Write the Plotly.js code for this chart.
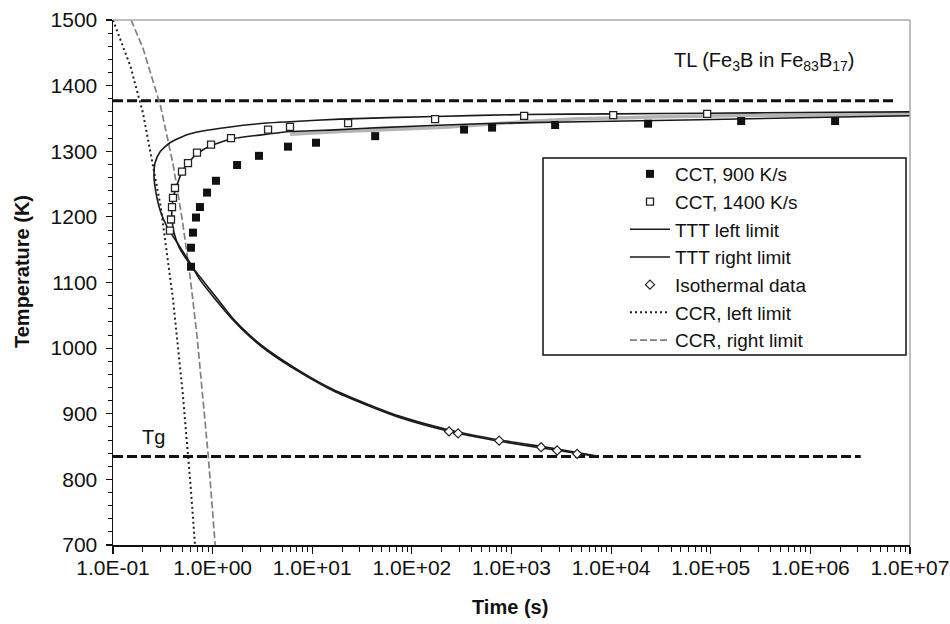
<!DOCTYPE html>
<html>
<head>
<meta charset="utf-8">
<script src="https://cdn.plot.ly/plotly-3.0.1.min.js"></script>
<style>html,body{margin:0;padding:0;background:#fff;}#chart{width:950px;height:624px;}</style>
</head>
<body>
<div id="chart"></div>
<script>
// ---- data ----
const xTickVals = [0.1, 1, 10, 100, 1e3, 1e4, 1e5, 1e6, 1e7];
const xTickText = ['1.0E-01','1.0E+00','1.0E+01','1.0E+02','1.0E+03','1.0E+04','1.0E+05','1.0E+06','1.0E+07'];

// CCT 900 K/s (solid squares)
const cct900Time = [0.607, 0.607, 0.635, 0.681, 0.746, 0.879, 1.08, 1.76, 2.92, 5.71, 10.9, 42.8, 334, 638, 2740, 2.35e4, 2.02e5, 1.77e6];
const cct900Temp = [1124, 1153, 1176, 1199, 1215, 1237, 1255, 1279, 1293, 1307, 1313, 1323, 1333, 1336, 1340, 1342, 1346, 1346];

// CCT 1400 K/s (open squares)
const cct1400Time = [0.373, 0.382, 0.391, 0.400, 0.419, 0.493, 0.566, 0.697, 0.964, 1.53, 3.60, 5.98, 22.9, 171, 1340, 1.05e4, 9.2e4];
const cct1400Temp = [1179, 1196, 1215, 1229, 1244, 1269, 1282, 1298, 1310, 1320, 1333, 1337, 1343, 1349, 1354, 1355, 1357];

// TTT left limit
const tttLeftTime = [1.0e7, 7.9e5, 9.2e4, 1.1e4, 1340, 171, 19.0, 5.98, 3.52, 1.50, 0.746, 0.553, 0.373, 0.296, 0.264, 0.258, 0.270, 0.296, 0.348, 0.440, 0.593,
                     0.747, 1.057, 1.60, 2.38, 3.52, 7.54, 16.2, 35.5, 76.2, 242, 769, 2444, 7230];
const tttLeftTemp = [1360, 1359, 1358, 1357, 1356, 1353, 1349, 1345, 1343, 1337, 1330, 1325, 1313, 1299, 1282, 1261, 1237, 1211, 1185, 1161, 1130,
                     1104, 1075, 1043, 1017, 996, 963, 935, 913, 894, 873, 858, 846, 835];

// TTT right limit
const tttRightTime = [1.0e7, 7.9e5, 7.8e4, 4890, 484, 48.0, 19.0, 5.98, 3.52, 1.57, 0.94, 0.697, 0.566, 0.493, 0.440, 0.410, 0.391, 0.391, 0.410, 0.460, 0.566,
                      0.77, 1.09, 1.60, 2.38, 3.52, 7.54, 16.2, 35.5, 76.2, 242, 769, 2444, 7000];
const tttRightTemp = [1354, 1351, 1348, 1345, 1342, 1336, 1333, 1330, 1326, 1319, 1308, 1296, 1282, 1269, 1249, 1234, 1215, 1196, 1176, 1154, 1132,
                      1106, 1077, 1045, 1019, 998, 965, 937, 915, 896, 875, 860, 848, 836];

// grey curve along the upper branch
const greyTime = [5.98, 19.0, 242, 2940, 4.54e5, 1.0e7];
const greyTemp = [1326, 1330, 1337, 1348, 1355, 1356];

// Isothermal data
const isoTime = [236, 291, 752, 1983, 2871, 4560];
const isoTemp = [873, 870, 859, 849, 844, 839];

// CCR left limit
const ccrLeftTime = [0.1, 0.15, 0.2, 0.3, 0.4, 0.5, 0.6, 0.665];
const ccrLeftTemp = [1500, 1429, 1358, 1217, 1075, 933, 792, 700];

// CCR right limit
const ccrRightTime = [0.152, 0.2, 0.3, 0.4, 0.5, 0.6, 0.7, 0.8, 0.9, 1.0, 1.06];
const ccrRightTemp = [1500, 1457, 1369, 1281, 1192, 1104, 1016, 927, 839, 750, 700];

// TL and Tg levels
const tlTime = [0.1, 7.1e6];
const tlTemp = [1377, 1377];
const tgTime = [0.1, 3.2e6];
const tgTemp = [835, 835];

// ---- build chart ----
const FONT = 'Liberation Sans, Arial, Helvetica, sans-serif';

const traces = [
  {x: tlTime, y: tlTemp, mode: 'lines', showlegend: false, line: {color: '#111', width: 3, dash: '10px,4px'}},
  {x: tgTime, y: tgTemp, mode: 'lines', showlegend: false, line: {color: '#111', width: 3, dash: '10px,4px'}},
  {x: greyTime, y: greyTemp, mode: 'lines', showlegend: false, line: {color: '#b4b4b4', width: 3.5, shape: 'spline', smoothing: 0.6}},
  {x: ccrLeftTime, y: ccrLeftTemp, mode: 'lines', name: 'CCR, left limit', legendrank: 6,
   line: {color: '#222', width: 2, dash: '2px,3px'}},
  {x: ccrRightTime, y: ccrRightTemp, mode: 'lines', name: 'CCR, right limit', legendrank: 7,
   line: {color: '#808080', width: 1.7, dash: '7px,3px'}},
  {x: tttLeftTime, y: tttLeftTemp, mode: 'lines', name: 'TTT left limit', legendrank: 3,
   line: {color: '#1a1a1a', width: 1.6, shape: 'spline', smoothing: 0.6}},
  {x: tttRightTime, y: tttRightTemp, mode: 'lines', name: 'TTT right limit', legendrank: 4,
   line: {color: '#1a1a1a', width: 1.6, shape: 'spline', smoothing: 0.6}},
  {x: cct900Time, y: cct900Temp, mode: 'markers', name: 'CCT, 900 K/s', legendrank: 1,
   marker: {symbol: 'square', size: 8, color: '#111'}},
  {x: cct1400Time, y: cct1400Temp, mode: 'markers', name: 'CCT, 1400 K/s', legendrank: 2,
   marker: {symbol: 'square', size: 7, color: '#fff', line: {color: '#222', width: 1.3}}},
  {x: isoTime, y: isoTemp, mode: 'markers', name: 'Isothermal data', legendrank: 5,
   marker: {symbol: 'diamond', size: 7, color: '#fff', line: {color: '#222', width: 1.2}}}
];

const L = 113, R = 910, T = 20, B = 545;
const pw = R - L, ph = B - T;
const px = v => (v - L) / pw;
const py = v => (B - v) / ph;

const layout = {
  width: 950, height: 624,
  margin: {l: L, r: 950 - R, t: T, b: 624 - B, pad: 0},
  paper_bgcolor: '#fff', plot_bgcolor: '#fff',
  font: {family: FONT, color: '#111', size: 20},
  showlegend: true,
  legend: {x: px(625), y: py(155), xanchor: 'left', yanchor: 'top',
           bgcolor: 'rgba(0,0,0,0)', borderwidth: 0, itemwidth: 40,
           font: {family: FONT, size: 19, color: '#111'}, traceorder: 'normal'},
  xaxis: {type: 'log', range: [-1, 7], tickmode: 'array', tickvals: xTickVals, ticktext: xTickText,
          ticks: 'outside', ticklen: 7, tickwidth: 1.2, tickcolor: '#111',
          minor: {ticks: 'outside', ticklen: 5, tickwidth: 1, tickcolor: '#111', dtick: 'D1', showgrid: false},
          showline: true, linecolor: '#111', linewidth: 1.5, showgrid: false, zeroline: false,
          ticklabelstandoff: -4,
          tickfont: {family: FONT, size: 21, color: '#111'}},
  yaxis: {range: [700, 1500], tickmode: 'linear', tick0: 700, dtick: 100,
          ticks: 'outside', ticklen: 6, tickwidth: 1.2, tickcolor: '#111',
          minor: {ticks: 'outside', ticklen: 4, tickwidth: 1, tickcolor: '#111', dtick: 20, showgrid: false},
          showline: true, linecolor: '#111', linewidth: 1.5, showgrid: false, zeroline: false,
          ticklabelstandoff: 4,
          tickfont: {family: FONT, size: 21, color: '#111'}},
  shapes: [
    {type: 'line', xref: 'paper', yref: 'paper', x0: 0, x1: 1, y0: 1, y1: 1, line: {color: '#a8a8a8', width: 1.5}},
    {type: 'line', xref: 'paper', yref: 'paper', x0: 1, x1: 1, y0: 0, y1: 1, line: {color: '#a8a8a8', width: 1.5}},
    {type: 'rect', xref: 'paper', yref: 'paper', x0: px(543), x1: px(906), y0: py(355), y1: py(158),
     line: {color: '#111', width: 1.5}, fillcolor: 'rgba(0,0,0,0)'}
  ],
  annotations: [
    {xref: 'paper', yref: 'paper', x: px(22), y: py(272), text: '<b>Temperature (K)</b>', textangle: -90,
     showarrow: false, xanchor: 'center', yanchor: 'middle', font: {family: FONT, size: 20, color: '#111'}},
    {xref: 'paper', yref: 'paper', x: px(510), y: py(607), text: '<b>Time (s)</b>',
     showarrow: false, xanchor: 'center', yanchor: 'middle', font: {family: FONT, size: 20, color: '#111'}},
    {xref: 'paper', yref: 'paper', x: px(672), y: py(62), text: 'TL (Fe<sub>3</sub>B in Fe<sub>83</sub>B<sub>17</sub>)',
     showarrow: false, xanchor: 'left', yanchor: 'middle', font: {family: FONT, size: 20, color: '#111'}},
    {xref: 'paper', yref: 'paper', x: px(153), y: py(437), text: 'Tg',
     showarrow: false, xanchor: 'center', yanchor: 'middle', font: {family: FONT, size: 20, color: '#111'}}
  ]
};

Plotly.newPlot('chart', traces, layout, {staticPlot: true, displayModeBar: false});
</script>
</body>
</html>
